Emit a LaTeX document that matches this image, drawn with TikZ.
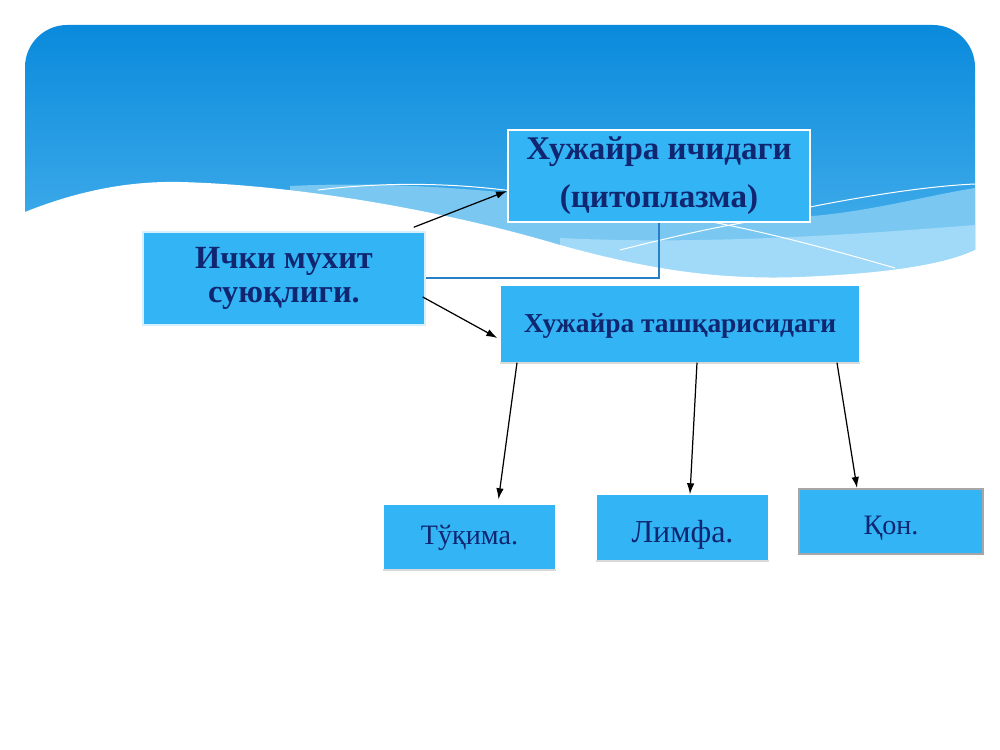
\documentclass[tikz,border=0pt]{standalone}
\usepackage{fontspec}
\setmainfont{Liberation Serif}
\usetikzlibrary{arrows.meta}
\definecolor{boxblue}{RGB}{50,180,245}
\definecolor{inkblue}{RGB}{16,38,112}
\definecolor{skytop}{RGB}{10,138,220}
\definecolor{skybot}{RGB}{80,182,238}
\definecolor{bandblue}{RGB}{122,200,242}
\definecolor{paleblue}{RGB}{160,218,248}
\definecolor{linkblue}{RGB}{38,128,195}

\begin{document}
\begin{tikzpicture}[x=0.1mm,y=-0.1mm,
    box/.style={fill=boxblue,inner sep=0pt,align=center,text=inkblue},
    shadowline/.style={draw=black!15,line width=0.2mm},
    arr/.style={-{Latex[length=1.1mm,width=0.75mm]},line width=0.35pt,black}]
  \useasboundingbox (0,0) rectangle (1000,750);
  \fill[white] (0,0) rectangle (1000,750);
  % header with waves
  \shade[top color=skytop,bottom color=skybot,rounded corners=12] (25,25) rectangle (975,300);
  \fill[bandblue] (290,186) .. controls (450,178) and (600,205) .. (700,215)
    .. controls (820,228) and (900,200) .. (975,188) -- (975,300) -- (290,300) -- cycle;
  \fill[paleblue] (560,238) .. controls (700,245) and (850,235) .. (975,225) -- (975,300) -- (560,300) -- cycle;
  \fill[white] (18,212) -- (25,212) .. controls (80,190) and (130,181) .. (180,182)
    .. controls (300,185) and (450,212) .. (560,245)
    .. controls (650,270) and (720,280) .. (800,277)
    .. controls (900,273) and (950,262) .. (975,250) -- (982,250) -- (982,320) -- (18,320) -- cycle;
  \draw[white,line width=0.1mm] (318,190) .. controls (400,180) and (470,185) .. (520,192);
  \draw[white,line width=0.1mm] (805,208) .. controls (870,195) and (930,186) .. (975,184);
  \draw[white,line width=0.1mm] (620,250) .. controls (680,235) and (720,226) .. (760,220);
  \draw[white,line width=0.1mm] (712,222) .. controls (780,235) and (850,255) .. (895,268);

  % boxes
  \node[box,minimum width=28.2mm,minimum height=9.3mm,font=\fontsize{9.2}{9.6}\selectfont\bfseries,
    draw=white!80!boxblue,line width=0.15mm] (inner) at (284,278.5) {Ички мухит\\суюқлиги.};
  \node[box,minimum width=30.2mm,minimum height=9.2mm,font=\fontsize{9.4}{13.6}\selectfont\bfseries,
    draw=white,line width=0.2mm] (cyto) at (659,176) {Хужайра ичидаги\\(цитоплазма)};
  \node[box,minimum width=35.8mm,minimum height=7.6mm,font=\fontsize{7.8}{9}\selectfont\bfseries,
    text height=2.4mm,text depth=0.6mm] (outer) at (680,324) {Хужайра ташқарисидаги};
  \node[box,minimum width=17.1mm,minimum height=6.4mm,font=\fontsize{8}{9}\selectfont,
    text height=2.3mm,text depth=0.7mm] (tuk) at (469.5,537) {Тўқима.};
  \node[box,minimum width=17.1mm,minimum height=6.5mm,font=\fontsize{9.1}{9}\selectfont,
    text height=3.8mm,text depth=0.7mm] (lim) at (682.5,527.5) {Лимфа.};
  \node[box,minimum width=18.4mm,minimum height=6.5mm,font=\fontsize{8}{9}\selectfont,
    text height=3.2mm,text depth=0.7mm,draw=black!35,line width=0.2mm] (qon) at (891,521.5) {Қон.};
  \draw[shadowline] (tuk.south west) -- (tuk.south east);
  \draw[shadowline] (lim.south west) -- (lim.south east);
  \draw[shadowline] (outer.south west) -- (outer.south east);

  % connectors
  \draw[linkblue,line width=0.2mm] (cyto.south) |- (inner.east);
  \draw[arr] ([xshift=-1.2mm,yshift=0.4mm]inner.north east) -- ([yshift=-1.5mm]cyto.west);
  \draw[arr] ([xshift=-0.3mm,yshift=-1.85mm]inner.east) -- ([xshift=-0.3mm,yshift=-1.4mm]outer.west);
  \draw[arr] ([xshift=-16.3mm]outer.south) -- ([xshift=2.9mm,yshift=0.5mm]tuk.north);
  \draw[arr] ([xshift=1.7mm]outer.south) -- ([xshift=0.75mm]lim.north);
  \draw[arr] ([xshift=15.7mm]outer.south) -- ([xshift=-3.4mm]qon.north);
\end{tikzpicture}
\end{document}
